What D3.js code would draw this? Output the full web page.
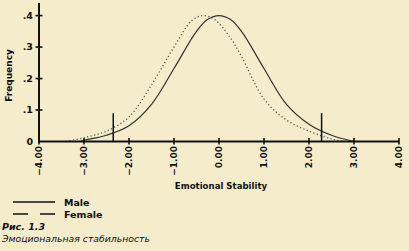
<!DOCTYPE html>
<html><head><meta charset="utf-8">
<script src="https://cdn.jsdelivr.net/npm/d3@7"></script>
<style>
html,body{margin:0;padding:0;background:#F4ECCA;}
svg{display:block;}
text{font-family:"DejaVu Sans",Verdana,sans-serif;fill:#111;}
</style></head>
<body>
<svg id="c" width="409" height="251"></svg>
<script>
// data
const maleX   = [-3.1, -3.0, -2.5, -2.0, -1.5, -1.0, -0.5, -0.25, 0.0, 0.25, 0.5, 1.0, 1.5, 2.0, 2.5, 3.0];
const maleY   = [0.0, 0.004, 0.02, 0.05, 0.118, 0.232, 0.35, 0.388, 0.40, 0.388, 0.35, 0.232, 0.118, 0.055, 0.02, 0.0];
const femaleX = [-3.4, -3.0, -2.5, -2.0, -1.5, -1.0, -0.6, -0.35, -0.1, 0.25, 0.5, 1.0, 1.5, 2.0, 2.5, 2.8];
const femaleY = [0.0, 0.012, 0.033, 0.078, 0.18, 0.30, 0.385, 0.40, 0.388, 0.33, 0.27, 0.135, 0.068, 0.033, 0.008, 0.0];
const cutoffs = [-2.35, 2.28];
const cutoffHeight = 0.09;
const xTicks = [-4, -3, -2, -1, 0, 1, 2, 3, 4];
const yTicks = [0, 0.1, 0.2, 0.3, 0.4];
const yTickLabels = ["0", ".1", ".2", ".3", ".4"];
const legendLabels = ["Male", "Female"];
const xTitle = "Emotional Stability";
const yTitle = "Frequency";
const captionTitle = "Рис. 1.3";
const captionText = "Эмоциональная стабильность";

const svg = d3.select("#c");
const x = d3.scaleLinear().domain([-4, 4]).range([39, 399]);
const y = d3.scaleLinear().domain([0, 0.44]).range([141.5, 3]);

// curves
const line = d3.line().x(d => x(d[0])).y(d => y(d[1])).curve(d3.curveCatmullRom.alpha(0.5));
const male = maleX.map((v, i) => [v, maleY[i]]);
const female = femaleX.map((v, i) => [v, femaleY[i]]);
svg.append("path").attr("d", line(female)).attr("fill", "none")
  .attr("stroke", "#555").attr("stroke-width", 1.3).attr("stroke-dasharray", "1.2,2.4");
svg.append("path").attr("d", line(male)).attr("fill", "none")
  .attr("stroke", "#333").attr("stroke-width", 1.2);

// cutoff markers
svg.selectAll("line.cut").data(cutoffs).join("line").attr("class", "cut")
  .attr("x1", d => x(d)).attr("x2", d => x(d))
  .attr("y1", y(cutoffHeight)).attr("y2", y(0))
  .attr("stroke", "#111").attr("stroke-width", 1.5);

// y axis
const yAxis = svg.append("g").attr("transform", `translate(${x(-4)},0)`)
  .call(d3.axisLeft(y).tickValues(yTicks.slice(1)).tickSize(0).tickFormat(""));
yAxis.select(".domain").remove();
svg.append("line").attr("x1", x(-4)).attr("x2", x(-4)).attr("y1", y(0.44)).attr("y2", y(0) + 1)
  .attr("stroke", "#111").attr("stroke-width", 2);
svg.selectAll("line.yt").data(yTicks.slice(1)).join("line").attr("class", "yt")
  .attr("x1", x(-4) - 3.5).attr("x2", x(-4) + 3.5).attr("y1", d => y(d)).attr("y2", d => y(d))
  .attr("stroke", "#111").attr("stroke-width", 1.6);
svg.selectAll("text.yl").data(yTicks).join("text").attr("class", "yl")
  .attr("x", 33).attr("y", d => y(d)).attr("dy", "0.35em")
  .attr("text-anchor", "end").attr("font-size", 9.5).attr("font-weight", "bold")
  .text((d, i) => yTickLabels[i]);

// x axis
const xAxis = svg.append("g").attr("transform", `translate(0,${y(0)})`)
  .call(d3.axisBottom(x).tickValues(xTicks).tickSize(0).tickFormat(""));
xAxis.select(".domain").remove();
svg.append("line").attr("x1", x(-4) - 1).attr("x2", x(4)).attr("y1", y(0)).attr("y2", y(0))
  .attr("stroke", "#111").attr("stroke-width", 2);
svg.selectAll("line.xt").data(xTicks).join("line").attr("class", "xt")
  .attr("x1", d => x(d)).attr("x2", d => x(d)).attr("y1", y(0) - 3.5).attr("y2", y(0) + 3)
  .attr("stroke", "#111").attr("stroke-width", 1.6);
svg.selectAll("text.xl").data(xTicks).join("text").attr("class", "xl")
  .attr("transform", d => `translate(${x(d)},146) rotate(-90)`)
  .attr("dy", "0.35em").attr("text-anchor", "end")
  .attr("font-size", 9).attr("font-weight", "bold")
  .text(d => d3.format(".2f")(d));

// titles
svg.append("text").attr("x", 221).attr("y", 189).attr("text-anchor", "middle")
  .attr("font-size", 8.6).attr("font-weight", "bold").text(xTitle);
svg.append("text").attr("transform", "translate(12,75.5) rotate(-90)").attr("text-anchor", "middle")
  .attr("font-size", 9).attr("font-weight", "bold").text(yTitle);

// legend
const lg = svg.append("g");
lg.append("line").attr("x1", 13).attr("x2", 55).attr("y1", 202).attr("y2", 202)
  .attr("stroke", "#111").attr("stroke-width", 1.6);
lg.append("line").attr("x1", 13).attr("x2", 55).attr("y1", 214).attr("y2", 214)
  .attr("stroke", "#111").attr("stroke-width", 1.6).attr("stroke-dasharray", "15,12");
lg.selectAll("text").data(legendLabels).join("text")
  .attr("x", 64).attr("y", (d, i) => 205.5 + i * 12)
  .attr("font-size", 9.5).attr("font-weight", "bold").text(d => d);

// caption
svg.append("text").attr("x", 2).attr("y", 230).attr("font-size", 9.5)
  .attr("font-weight", "bold").attr("font-style", "italic").text(captionTitle);
svg.append("text").attr("x", 2).attr("y", 242).attr("font-size", 9.3)
  .attr("font-style", "italic").text(captionText);
</script>
</body></html>
